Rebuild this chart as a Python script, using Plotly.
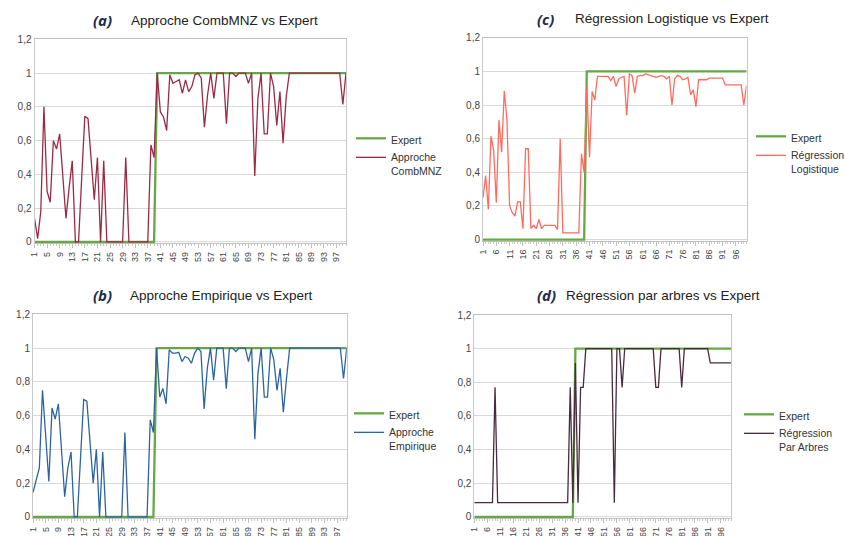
import plotly.graph_objects as go

# ---------------- data ----------------
points = list(range(1, 101))

expert = [0, 0, 0, 0, 0, 0, 0, 0, 0, 0,
          0, 0, 0, 0, 0, 0, 0, 0, 0, 0,
          0, 0, 0, 0, 0, 0, 0, 0, 0, 0,
          0, 0, 0, 0, 0, 0, 0, 0, 0, 1,
          1, 1, 1, 1, 1, 1, 1, 1, 1, 1,
          1, 1, 1, 1, 1, 1, 1, 1, 1, 1,
          1, 1, 1, 1, 1, 1, 1, 1, 1, 1,
          1, 1, 1, 1, 1, 1, 1, 1, 1, 1,
          1, 1, 1, 1, 1, 1, 1, 1, 1, 1,
          1, 1, 1, 1, 1, 1, 1, 1, 1, 1]

combmnz = [0.14, 0.02, 0.18, 0.80, 0.30, 0.235, 0.60, 0.55, 0.64, 0.40,
           0.14, 0.32, 0.48, 0.0, 0.0, 0.38, 0.745, 0.73, 0.50, 0.25,
           0.50, 0.0, 0.48, 0.0, 0.0, 0.0, 0.0, 0.0, 0.0, 0.50,
           0.0, 0.0, 0.0, 0.0, 0.0, 0.0, 0.0, 0.575, 0.50, 1.0,
           0.77, 0.74, 0.66, 0.99, 0.94, 0.95, 0.96, 0.88, 0.96, 0.89,
           0.92, 0.99, 1.0, 0.97, 0.68, 0.87, 1.0, 0.85, 1.0, 1.0,
           1.0, 0.70, 1.0, 1.0, 0.98, 1.0, 1.0, 1.0, 0.94, 1.0,
           0.39, 0.85, 1.0, 0.64, 0.64, 1.0, 0.92, 0.69, 0.89, 0.585,
           0.86, 1.0, 1.0, 1.0, 1.0, 1.0, 1.0, 1.0, 1.0, 1.0,
           1.0, 1.0, 1.0, 1.0, 1.0, 1.0, 1.0, 1.0, 0.815, 1.0]

empirique = [0.145, 0.21, 0.29, 0.75, 0.45, 0.21, 0.645, 0.58, 0.67, 0.37,
             0.12, 0.29, 0.385, 0.0, 0.0, 0.35, 0.695, 0.685, 0.43, 0.20,
             0.40, 0.0, 0.385, 0.0, 0.0, 0.0, 0.0, 0.0, 0.0, 0.50,
             0.0, 0.0, 0.0, 0.0, 0.0, 0.0, 0.0, 0.575, 0.50, 1.0,
             0.71, 0.76, 0.67, 0.99, 0.97, 0.97, 0.975, 0.92, 0.95, 0.94,
             0.91, 0.97, 1.0, 0.98, 0.64, 0.88, 1.0, 0.81, 1.0, 1.0,
             1.0, 0.76, 1.0, 1.0, 0.98, 1.0, 1.0, 1.0, 0.92, 1.0,
             0.46, 0.85, 1.0, 0.71, 0.71, 1.0, 0.93, 0.75, 0.88, 0.62,
             0.82, 1.0, 1.0, 1.0, 1.0, 1.0, 1.0, 1.0, 1.0, 1.0,
             1.0, 1.0, 1.0, 1.0, 1.0, 1.0, 1.0, 1.0, 0.82, 1.0]

logistique = [0.25, 0.38, 0.18, 0.615, 0.53, 0.22, 0.71, 0.52, 0.885, 0.71,
              0.20, 0.16, 0.14, 0.225, 0.225, 0.065, 0.54, 0.54, 0.065, 0.085,
              0.065, 0.12, 0.065, 0.085, 0.085, 0.085, 0.085, 0.085, 0.06, 0.60,
              0.04, 0.04, 0.04, 0.04, 0.04, 0.04, 0.04, 0.51, 0.40, 0.915,
              0.49, 0.88, 0.83, 0.97, 0.97, 0.97, 0.97, 0.97, 0.945, 0.97,
              0.91, 0.955, 0.965, 0.97, 0.74, 0.985, 0.975, 0.87, 0.97, 0.975,
              0.975, 0.985, 0.98, 0.975, 0.97, 0.965, 0.97, 0.975, 0.97, 0.955,
              0.97, 0.80, 0.955, 0.975, 0.97, 0.95, 0.955, 0.965, 0.86, 0.89,
              0.79, 0.95, 0.95, 0.95, 0.95, 0.96, 0.96, 0.96, 0.96, 0.96,
              0.96, 0.92, 0.92, 0.92, 0.92, 0.92, 0.92, 0.92, 0.80, 0.915]

arbres = [0.085, 0.085, 0.085, 0.085, 0.085, 0.085, 0.085, 0.085, 0.77, 0.085,
          0.085, 0.085, 0.085, 0.085, 0.085, 0.085, 0.085, 0.085, 0.085, 0.085,
          0.085, 0.085, 0.085, 0.085, 0.085, 0.085, 0.085, 0.085, 0.085, 0.085,
          0.085, 0.085, 0.085, 0.085, 0.085, 0.085, 0.085, 0.77, 0.085, 0.915,
          0.085, 0.77, 0.77, 1.0, 1.0, 1.0, 1.0, 1.0, 1.0, 1.0,
          1.0, 1.0, 1.0, 1.0, 0.085, 1.0, 1.0, 0.77, 1.0, 1.0,
          1.0, 1.0, 1.0, 1.0, 1.0, 1.0, 1.0, 1.0, 1.0, 1.0,
          0.77, 0.77, 1.0, 1.0, 1.0, 1.0, 1.0, 1.0, 1.0, 1.0,
          0.77, 1.0, 1.0, 1.0, 1.0, 1.0, 1.0, 1.0, 1.0, 1.0,
          1.0, 0.915, 0.915, 0.915, 0.915, 0.915, 0.915, 0.915, 0.915, 0.915]

left_ticks = [1, 5, 9, 13, 17, 21, 25, 29, 33, 37, 41, 45, 49, 53, 57, 61, 65, 69, 73, 77, 81, 85, 89, 93, 97]
right_ticks = [1, 6, 11, 16, 21, 26, 31, 36, 41, 46, 51, 56, 61, 66, 71, 76, 81, 86, 91, 96]
y_ticks = [0, 0.2, 0.4, 0.6, 0.8, 1.0, 1.2]
y_labels = ["0", "0,2", "0,4", "0,6", "0,8", "1", "1,2"]

panels = [
    # (axis suffix, legend name, series, series name, color, x-ticks, letter, title)
    ("", "legend", combmnz, "Approche<br>CombMNZ", "#9b2a45", left_ticks, "(a)", "Approche CombMNZ vs Expert"),
    ("2", "legend2", logistique, "Régression<br>Logistique", "#ff6b5e", right_ticks, "(c)", "Régression Logistique vs Expert"),
    ("3", "legend3", empirique, "Approche<br>Empirique", "#2c64a3", left_ticks, "(b)", "Approche Empirique vs Expert"),
    ("4", "legend4", arbres, "Régression<br>Par Arbres", "#4a2a3e", right_ticks, "(d)", "Régression par arbres vs Expert"),
]

W, H = 845, 536
def px_x(v):
    return v / W
def px_y(v):
    return 1 - v / H

# plot-area boxes in pixels (left, right, top, bottom)
boxes = [
    (34.5, 346.0, 39.3, 243.3),
    (483.0, 746.5, 37.7, 241.0),
    (33.0, 346.7, 314.3, 518.3),
    (474.3, 731.0, 315.0, 518.3),
]
legend_pos = [(351, 125), (751, 123), (349, 400), (739, 401)]
title_pos = [(102, 224, 20), (545, 672, 19), (102, 222, 295), (546, 663, 295)]

GREEN = "#65a844"
fig = go.Figure()
layout = dict(width=W, height=H,
              margin=dict(l=0, r=0, t=0, b=0, autoexpand=False),
              paper_bgcolor="white", plot_bgcolor="white", showlegend=True,
              font=dict(family="Liberation Sans, Arial, sans-serif", color="#333333"))
annotations = []

for k, (sfx, leg, series, sname, color, xt, letter, title) in enumerate(panels):
    xa = "x" + sfx
    ya = "y" + sfx
    fig.add_trace(go.Scatter(x=points, y=expert, mode="lines", name="Expert",
                             line=dict(color=GREEN, width=2.3), xaxis=xa, yaxis=ya,
                             legend=leg))
    fig.add_trace(go.Scatter(x=points, y=series, mode="lines", name=sname,
                             line=dict(color=color, width=1.3), xaxis=xa, yaxis=ya,
                             legend=leg))
    l, r, t, b = boxes[k]
    layout["xaxis" + sfx] = dict(
        domain=[px_x(l), px_x(r)], anchor=ya, range=[1, 100], automargin=False,
        tickmode="array", tickvals=xt, ticktext=[str(v) for v in xt],
        tickangle=-90, tickfont=dict(size=9, color="#444444"),
        ticks="outside", ticklen=4, tickcolor="#bfbfbf",
        minor=dict(dtick=1, ticks="outside", ticklen=2, tickcolor="#c8c8c8", showgrid=False),
        showgrid=False, zeroline=False, showline=True, linecolor="#bfbfbf",
        linewidth=1, mirror=True, fixedrange=True)
    layout["yaxis" + sfx] = dict(
        domain=[px_y(b), px_y(t)], anchor=xa, range=[-0.008, 1.2], automargin=False,
        tickmode="array", tickvals=y_ticks, ticktext=y_labels,
        tickfont=dict(size=10, color="#444444"), ticks="",
        showgrid=True, gridcolor="#d9d9d9", gridwidth=1.2,
        zeroline=False, showline=True, linecolor="#c8c8c8", linewidth=1,
        mirror=True, fixedrange=True)
    lx, ly = legend_pos[k]
    layout[leg] = dict(x=px_x(lx), y=px_y(ly), xanchor="left", yanchor="top",
                       bgcolor="rgba(0,0,0,0)", borderwidth=0,
                       font=dict(size=10.5, color="#333333",
                                 family="Liberation Sans, Arial, sans-serif"),
                       valign="top", tracegroupgap=0, itemwidth=30)
    lxp, txp, typ = title_pos[k]
    annotations.append(dict(x=px_x(lxp), y=px_y(typ), xref="paper", yref="paper",
                            text="<b><i>" + letter + "</i></b>", showarrow=False,
                            xanchor="center", yanchor="middle",
                            font=dict(size=15, color="#1f2d4d",
                                      family="Open Sans, Liberation Sans, sans-serif")))
    annotations.append(dict(x=px_x(txp), y=px_y(typ), xref="paper", yref="paper",
                            text=title, showarrow=False, xanchor="center",
                            yanchor="middle",
                            font=dict(size=13.5, color="#222222",
                                      family="Liberation Sans, Arial, sans-serif")))

layout["annotations"] = annotations
fig.update_layout(**layout)
fig.write_html("out.html", config={"displayModeBar": False},
               post_script="document.body.style.margin='0';document.body.style.padding='0';")
